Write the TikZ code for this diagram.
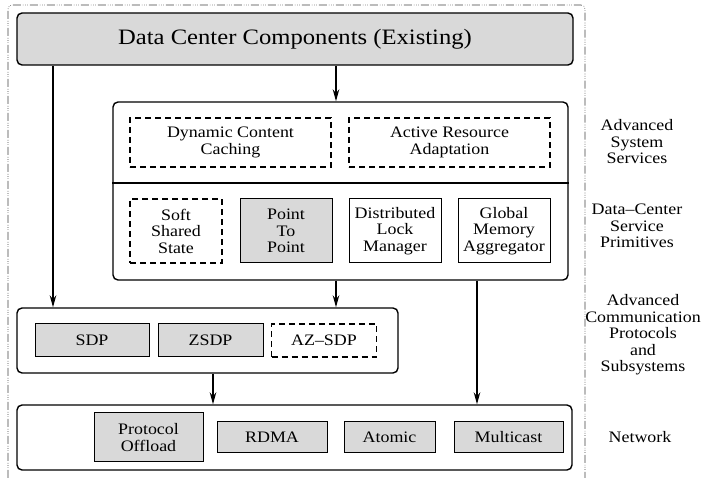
\documentclass[tikz,border=0pt]{standalone}
\usepackage{fontspec}
\setmainfont{Liberation Serif}[FakeStretch=1.12]
\usetikzlibrary{arrows.meta}
\definecolor{boxgray}{gray}{0.85}
\begin{document}
\begin{tikzpicture}[x=1pt, y=-1pt, line width=1.4pt,
		layer/.style={draw, rounded corners=5pt, inner sep=0pt},
		part/.style={draw, line width=1pt, inner sep=0pt, align=center, font=\fontsize{16}{16.5}\selectfont},
		shaded/.style={part, fill=boxgray},
		planned/.style={part, dash pattern=on 6pt off 4pt, line width=1.4pt},
		side/.style={align=center, font=\fontsize{16}{16.5}\selectfont},
		arr/.style={-{Stealth[length=12pt,width=6.5pt]}, line width=1.5pt}]
		\useasboundingbox (0,0) rectangle (705,478);
		\draw[line width=0.6pt, gray!50!black, rounded corners=4pt, dash pattern=on 8pt off 2pt on 0.6pt off 1.6pt on 0.6pt off 1.6pt on 0.6pt off 2pt] (8,478) -- (8,5) -- (585,5) -- (585,478);
		\node[layer, fill=boxgray, minimum width=556pt, minimum height=52pt, font=\fontsize{22}{24}\selectfont] (dcc) at (295,39) {Data Center Components (Existing)};
		\node[layer, minimum width=455pt, minimum height=178pt] (svc) at (340.5,191) {};
		\draw ([yshift=8pt]svc.west) -- ([yshift=8pt]svc.east);
		\node[planned, minimum width=201pt, minimum height=49pt] (cache) at (230.5,142.5) {Dynamic Content\\Caching};
		\node[planned, minimum width=201pt, minimum height=49pt] (adapt) at (449.5,142.5) {Active Resource\\Adaptation};
		\node[planned, minimum width=92pt, minimum height=64pt] (sss) at (176,231) {Soft\\Shared\\State};
		\node[shaded, minimum width=92pt, minimum height=64pt] (ptp) at (286,231) {Point\\To\\Point};
		\node[part, minimum width=92pt, minimum height=64pt] (dlm) at (395,231) {Distributed\\Lock\\Manager};
		\node[part, minimum width=92pt, minimum height=64pt] (gma) at (504,231) {Global\\Memory\\Aggregator};
		\node[layer, minimum width=381pt, minimum height=65pt] (proto) at (207.5,340.5) {};
		\node[shaded, minimum width=114pt, minimum height=33pt] (sdp) at (92,340.5) {SDP};
		\node[shaded, minimum width=105pt, minimum height=33pt] (zsdp) at (210.5,340.5) {ZSDP};
		\node[planned, minimum width=105pt, minimum height=33pt] (azsdp) at (324,340.5) {AZ--SDP};
		\node[layer, minimum width=555pt, minimum height=65pt] (net) at (294.5,437.5) {};
		\node[shaded, minimum width=109pt, minimum height=49pt] (offload) at (148.5,437.5) {Protocol\\Offload};
		\node[shaded, minimum width=110pt, minimum height=31pt] (rdma) at (272,437.5) {RDMA};
		\node[shaded, minimum width=91pt, minimum height=31pt] (atomic) at (389.5,437.5) {Atomic};
		\node[shaded, minimum width=109pt, minimum height=31pt] (mcast) at (508.5,437.5) {Multicast};
		\node[side] (l_sys) at (637,142) {Advanced\\System\\Services};
		\node[side] (l_prim) at (637,226) {Data--Center\\Service\\Primitives};
		\node[side] (l_comm) at (643,335) {Advanced\\Communication\\Protocols\\and\\Subsystems};
		\node[side] (l_net) at (640,437) {Network};
		\draw[arr] ([xshift=41pt]dcc.south) -- ([xshift=41pt]dcc.south |- svc.north);
		\draw[arr] ([xshift=-242pt]dcc.south) -- ([xshift=-242pt]dcc.south |- proto.north);
		\draw[arr] ([xshift=-4.5pt]svc.south) -- ([xshift=-4.5pt]svc.south |- proto.north);
		\draw[arr] ([xshift=136.5pt]svc.south) -- ([xshift=136.5pt]svc.south |- net.north);
		\draw[arr] ([xshift=5.5pt]proto.south) -- ([xshift=5.5pt]proto.south |- net.north);
	\end{tikzpicture}
\end{document}
